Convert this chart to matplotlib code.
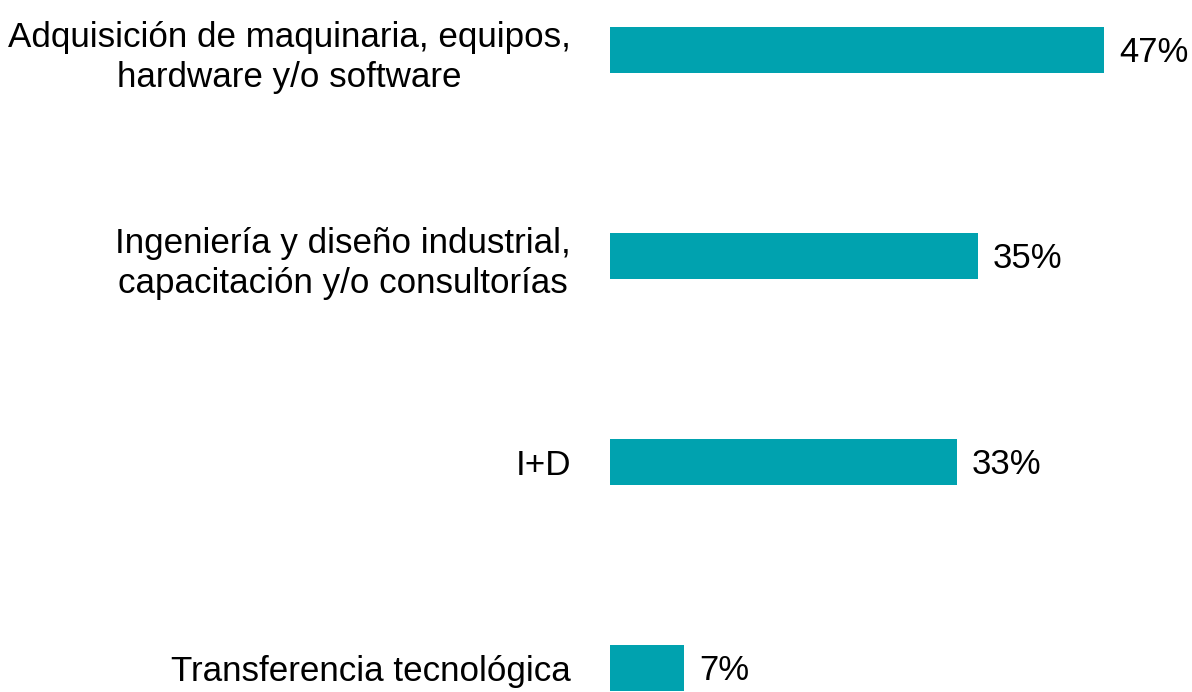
import matplotlib.pyplot as plt

categorias = [
    "Adquisición de maquinaria, equipos,\nhardware y/o software",
    "Ingeniería y diseño industrial,\ncapacitación y/o consultorías",
    "I+D",
    "Transferencia tecnológica",
]
valores = [47, 35, 33, 7]
etiquetas = ["47%", "35%", "33%", "7%"]


def main():
    plt.rcParams['font.family'] = ['Liberation Sans Narrow', 'Liberation Sans', 'DejaVu Sans']

    fig = plt.figure(figsize=(11.92, 6.92), dpi=100)
    ax = fig.add_axes([610 / 1192, 0, (1104 - 610) / 1192, 1])

    pos = list(range(len(categorias)))
    ax.barh(pos, valores, height=0.228, color="#00A2AF")

    ax.set_xlim(0, 47)
    ax.set_ylim(3 + 24 / 206, -50 / 206)

    ax.set_yticks(pos)
    ax.set_yticklabels(categorias, fontsize=25.2)
    for lbl in ax.get_yticklabels():
        lbl.set_multialignment('center')
        lbl.set_linespacing(1.3)
    ax.tick_params(axis='y', length=0, pad=28)
    ax.set_xticks([])

    for y, v, t in zip(pos, valores, etiquetas):
        ax.annotate(t, (v, y), xytext=(11, -2), textcoords='offset points',
                    va='center', ha='left', fontsize=25, annotation_clip=False)

    for s in ax.spines.values():
        s.set_visible(False)

    fig.savefig("out.png", dpi=100)


if __name__ == '__main__':
    main()
